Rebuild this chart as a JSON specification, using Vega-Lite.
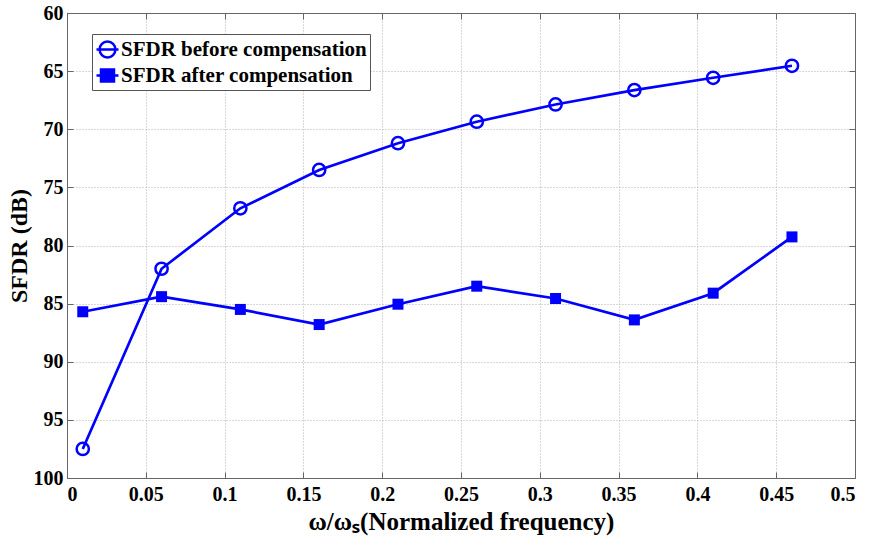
{
  "$schema": "https://vega.github.io/schema/vega-lite/v6.json",
  "width": 788,
  "height": 465,
  "autosize": {"type": "none"},
  "padding": {"left": 67, "top": 13, "right": 17, "bottom": 62},
  "background": "white",
  "config": {
    "view": {"stroke": null},
    "font": "Liberation Serif",
    "axis": {
      "labelFont": "Liberation Serif",
      "labelFontWeight": "bold",
      "labelFontSize": 20,
      "labelColor": "black",
      "titleFont": "Liberation Serif",
      "titleFontWeight": "bold",
      "titleFontSize": 24,
      "titleColor": "black",
      "domainColor": "#666666",
      "domainWidth": 1,
      "tickColor": "#666666",
      "tickSize": -6,
      "gridColor": "#b0b0b0",
      "gridDash": [1, 2],
      "gridWidth": 1
    },
    "legend": {
      "labelFont": "Liberation Serif"
    }
  },
  "data": {
    "values": [
      {"f": 0.01, "sfdr": 97.5, "series": "SFDR before compensation"},
      {"f": 0.06, "sfdr": 82.0, "series": "SFDR before compensation"},
      {"f": 0.11, "sfdr": 76.8, "series": "SFDR before compensation"},
      {"f": 0.16, "sfdr": 73.5, "series": "SFDR before compensation"},
      {"f": 0.21, "sfdr": 71.2, "series": "SFDR before compensation"},
      {"f": 0.26, "sfdr": 69.35, "series": "SFDR before compensation"},
      {"f": 0.31, "sfdr": 67.87, "series": "SFDR before compensation"},
      {"f": 0.36, "sfdr": 66.63, "series": "SFDR before compensation"},
      {"f": 0.41, "sfdr": 65.57, "series": "SFDR before compensation"},
      {"f": 0.46, "sfdr": 64.54, "series": "SFDR before compensation"},
      {"f": 0.01, "sfdr": 85.7, "series": "SFDR after compensation"},
      {"f": 0.06, "sfdr": 84.4, "series": "SFDR after compensation"},
      {"f": 0.11, "sfdr": 85.5, "series": "SFDR after compensation"},
      {"f": 0.16, "sfdr": 86.8, "series": "SFDR after compensation"},
      {"f": 0.21, "sfdr": 85.05, "series": "SFDR after compensation"},
      {"f": 0.26, "sfdr": 83.5, "series": "SFDR after compensation"},
      {"f": 0.31, "sfdr": 84.56, "series": "SFDR after compensation"},
      {"f": 0.36, "sfdr": 86.4, "series": "SFDR after compensation"},
      {"f": 0.41, "sfdr": 84.1, "series": "SFDR after compensation"},
      {"f": 0.46, "sfdr": 79.26, "series": "SFDR after compensation"}
    ]
  },
  "layer": [
    {
      "mark": {"type": "line", "color": "#0000ff", "strokeWidth": 2.7},
      "encoding": {
        "x": {
          "field": "f", "type": "quantitative",
          "scale": {"domain": [0, 0.5], "nice": false},
          "axis": {
            "orient": "bottom",
            "values": [0, 0.05, 0.1, 0.15, 0.2, 0.25, 0.3, 0.35, 0.4, 0.45, 0.5],
            "format": ".2~f",
            "grid": true,
            "labelPadding": 12,
            "title": "ω/ωₛ(Normalized frequency)",
            "titleFontSize": 25,
            "titlePadding": 5
          }
        },
        "y": {
          "field": "sfdr", "type": "quantitative",
          "scale": {"domain": [60, 100], "nice": false, "reverse": true},
          "axis": {
            "orient": "left",
            "values": [60, 65, 70, 75, 80, 85, 90, 95, 100],
            "grid": true,
            "labelPadding": 10,
            "title": "SFDR (dB)",
            "titlePadding": 2
          }
        },
        "detail": {"field": "series"}
      }
    },
    {
      "transform": [{"filter": "datum.series == 'SFDR before compensation'"}],
      "mark": {"type": "point", "shape": "circle", "filled": false, "color": "#0000ff", "strokeWidth": 2.5, "size": 150, "opacity": 1},
      "encoding": {
        "x": {"field": "f", "type": "quantitative", "axis": null},
        "y": {"field": "sfdr", "type": "quantitative", "axis": null}
      }
    },
    {
      "transform": [{"filter": "datum.series == 'SFDR after compensation'"}],
      "mark": {"type": "point", "shape": "square", "filled": true, "color": "#0000ff", "size": 121, "opacity": 1},
      "encoding": {
        "x": {"field": "f", "type": "quantitative", "axis": null},
        "y": {"field": "sfdr", "type": "quantitative", "axis": null}
      }
    },
    {
      "transform": [{"filter": "datum.f < -1"}],
      "mark": {"type": "point", "strokeWidth": 2.5, "opacity": 1},
      "encoding": {
        "x": {
          "field": "f", "type": "quantitative",
          "axis": {"orient": "top", "values": [0, 0.05, 0.1, 0.15, 0.2, 0.25, 0.3, 0.35, 0.4, 0.45, 0.5], "labels": false, "title": null, "grid": false}
        },
        "y": {
          "field": "sfdr", "type": "quantitative",
          "axis": {"orient": "right", "values": [60, 65, 70, 75, 80, 85, 90, 95, 100], "labels": false, "title": null, "grid": false}
        },
        "shape": {
          "field": "series", "type": "nominal",
          "scale": {
            "domain": ["SFDR before compensation", "SFDR after compensation"],
            "range": [
              "M-1,0H1M-0.72,0A0.72,0.72,0,1,0,0.72,0A0.72,0.72,0,1,0,-0.72,0",
              "M-1,0H1M-0.59,-0.55H0.59V0.55H-0.59Z"
            ]
          },
          "legend": {
            "title": null,
            "orient": "none",
            "legendX": 25,
            "legendY": 21,
            "strokeColor": "#555555",
            "fillColor": "white",
            "padding": 3,
            "labelFont": "Liberation Serif",
            "labelFontWeight": "bold",
            "labelFontSize": 21,
            "labelColor": "black",
            "labelLimit": 0,
            "labelOffset": 1,
            "symbolSize": 484,
            "symbolStrokeWidth": 2.5,
            "symbolOpacity": 1,
            "rowPadding": 0
          }
        },
        "fill": {
          "field": "series", "type": "nominal",
          "scale": {
            "domain": ["SFDR before compensation", "SFDR after compensation"],
            "range": ["transparent", "#0000ff"]
          },
          "legend": {"title": null, "orient": "none", "legendX": 25, "legendY": 21}
        },
        "stroke": {
          "field": "series", "type": "nominal",
          "scale": {
            "domain": ["SFDR before compensation", "SFDR after compensation"],
            "range": ["#0000ff", "#0000ff"]
          },
          "legend": {"title": null, "orient": "none", "legendX": 25, "legendY": 21}
        }
      }
    }
  ],
  "resolve": {"axis": {"x": "independent", "y": "independent"}}
}
